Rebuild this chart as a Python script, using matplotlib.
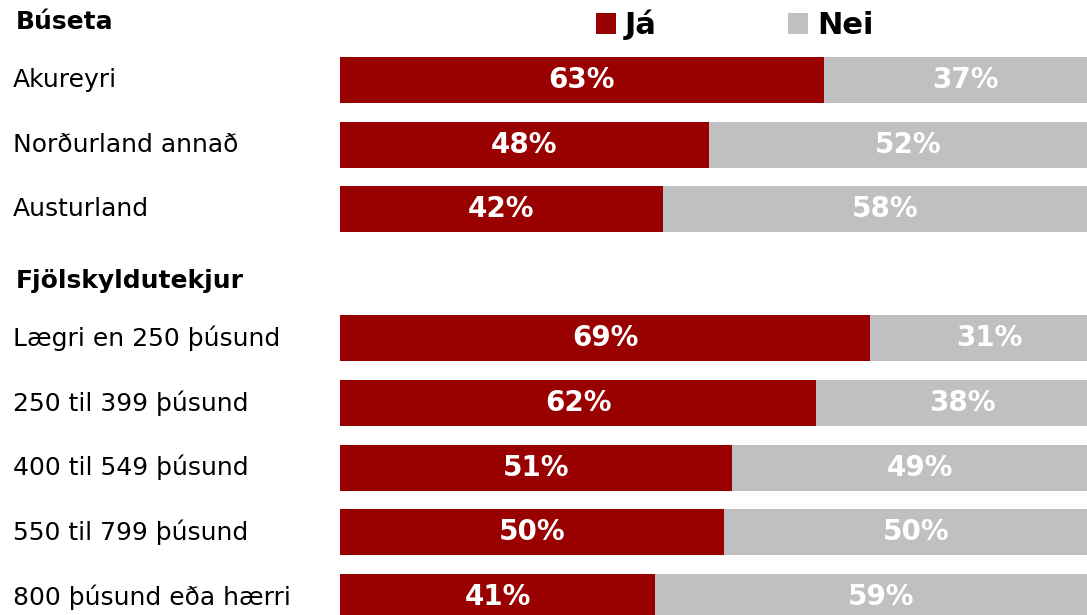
import numpy as np
import matplotlib.pyplot as plt
import matplotlib.transforms as mtransforms

# groups and their categories
groups = ["Búseta", "Fjölskyldutekjur"]
group_cats = [
    ["Akureyri", "Norðurland annað", "Austurland"],
    ["Lægri en 250 þúsund", "250 til 399 þúsund", "400 til 549 þúsund",
     "550 til 799 þúsund", "800 þúsund eða hærri"],
]
ja = [63, 48, 42, 69, 62, 51, 50, 41]
nei = [37, 52, 58, 31, 38, 49, 50, 59]
series_names = ["Já", "Nei"]

RED = "#990000"
GREY = "#bfc0c2"

# row slots: each group header takes one slot, then its categories
header_pos, cat_pos, cats = [], [], []
slot = 0
for g, cl in zip(groups, group_cats):
    header_pos.append(slot)
    slot += 1
    for c in cl:
        cat_pos.append(slot)
        cats.append(c)
        slot += 1
cat_pos = np.array(cat_pos)

fig = plt.figure(figsize=(10.87, 6.15), dpi=100)
ax = fig.add_axes([340 / 1087, 0, 768 / 1087, 1])

b1 = ax.barh(cat_pos, ja, height=0.71, color=RED, label=series_names[0])
b2 = ax.barh(cat_pos, nei, left=ja, height=0.71, color=GREY, label=series_names[1])

for p, a, n in zip(cat_pos, ja, nei):
    ax.text(a / 2, p, f"{a}%", ha="center", va="center", color="white",
            fontsize=20, fontweight="bold")
    ax.text(a + n / 2, p, f"{n}%", ha="center", va="center", color="white",
            fontsize=20, fontweight="bold")

ax.set_xlim(0, 100)
ax.set_ylim(9.282, -0.238)
ax.axis("off")

# left side labels (figure x, data y)
trans = mtransforms.blended_transform_factory(fig.transFigure, ax.transData)
for p, c in zip(cat_pos, cats):
    ax.text(13 / 1087, p, c, transform=trans, ha="left", va="center",
            fontsize=18, clip_on=False)
for p, g in zip(header_pos, groups):
    ax.text(16 / 1087, p + 0.11, g, transform=trans, ha="left", va="center",
            fontsize=18, fontweight="bold", clip_on=False)

fig.legend(handles=[b1, b2], loc="center left",
           bbox_to_anchor=(596 / 1087, 1 - 25 / 615), ncol=2, frameon=False,
           borderpad=0, borderaxespad=0, handlelength=0.65, handleheight=0.65,
           handletextpad=0.3, columnspacing=4.3,
           prop={"size": 22, "weight": "bold"})

fig.savefig("out.png", dpi=100)
